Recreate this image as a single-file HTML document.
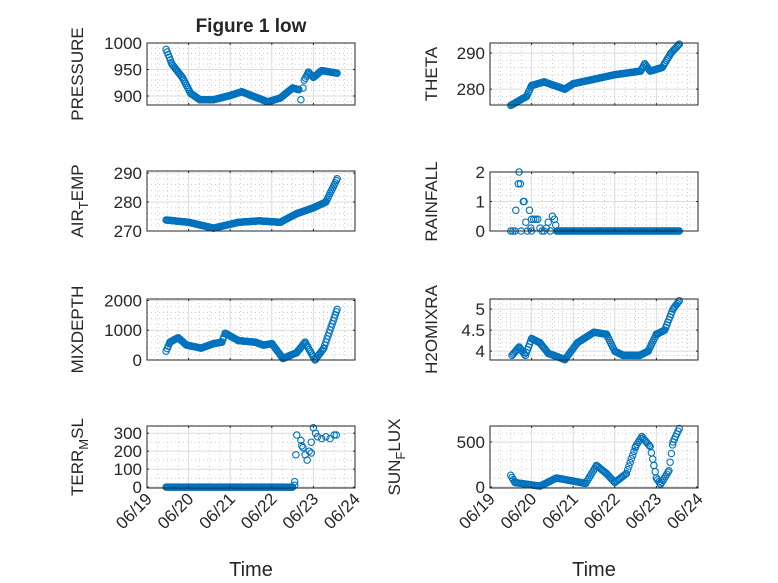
<!DOCTYPE html><html><head><meta charset="utf-8"><style>body{margin:0;background:#fff}svg{display:block}text{font-family:"Liberation Sans",sans-serif;fill:#262626}</style></head><body>
<svg id="s" width="778" height="583" xmlns="http://www.w3.org/2000/svg"></svg>
<script>
const S=document.getElementById('s');let h='';
h+='<rect width="778" height="583" fill="#fff"/>';
h+='<text x="251" y="32" font-size="19" font-weight="bold" text-anchor="middle">Figure 1 low</text>';
function lin(pts,step){const r=[];for(let i=0;i<pts.length-1;i++){const[a,va]=pts[i],[b,vb]=pts[i+1];for(let d=a;d<b;d+=step){r.push([d,va+(vb-va)*(d-a)/(b-a)]);}}r.push(pts[pts.length-1]);return r;}
function ax(o){const{x0,x1,y0,y1,ymin,ymax,ticks,minor,label,data,xl}=o;
const X=d=>x0+d*(x1-x0)/5,Y=v=>y1-(v-ymin)*(y1-y0)/(ymax-ymin);
let g='';
for(let i=0;i<20;i++){if(i%4==0)continue;const x=X(i/4);g+=`<line x1="${x}" y1="${y0}" x2="${x}" y2="${y1}" stroke="#bbb" stroke-width="0.7" stroke-dasharray="1,3"/>`;}
minor.forEach(v=>{const y=Y(v);g+=`<line x1="${x0}" y1="${y}" x2="${x1}" y2="${y}" stroke="#bbb" stroke-width="0.7" stroke-dasharray="1,3"/>`;});
for(let i=1;i<5;i++){const x=X(i);g+=`<line x1="${x}" y1="${y0}" x2="${x}" y2="${y1}" stroke="#dcdcdc" stroke-width="1"/>`;}
ticks.forEach(v=>{const y=Y(v);g+=`<line x1="${x0}" y1="${y}" x2="${x1}" y2="${y}" stroke="#dcdcdc" stroke-width="1"/>`;});
data.forEach(([d,v])=>{g+=`<circle cx="${X(d).toFixed(1)}" cy="${Y(v).toFixed(1)}" r="3.2" fill="none" stroke="#0072BD" stroke-width="1.1"/>`;});
g+=`<rect x="${x0}" y="${y0}" width="${x1-x0}" height="${y1-y0}" fill="none" stroke="#262626" stroke-width="1"/>`;
for(let i=0;i<=5;i++){const x=X(i);g+=`<line x1="${x}" y1="${y1}" x2="${x}" y2="${y1-2}" stroke="#262626"/><line x1="${x}" y1="${y0}" x2="${x}" y2="${y0+2}" stroke="#262626"/>`;}
ticks.forEach(v=>{const y=Y(v);g+=`<line x1="${x0}" y1="${y}" x2="${x0+2}" y2="${y}" stroke="#262626"/><line x1="${x1}" y1="${y}" x2="${x1-2}" y2="${y}" stroke="#262626"/><text x="${x0-5}" y="${y+6}" font-size="17" text-anchor="end">${v}</text>`;});
const lx=o.lx,ly=(y0+y1)/2;
g+=`<text transform="translate(${lx},${ly}) rotate(-90)" font-size="17" text-anchor="middle">${label}</text>`;
if(xl){for(let i=0;i<=5;i++){const x=X(i);g+=`<text transform="translate(${x+6},${y1+12}) rotate(-45)" font-size="17" text-anchor="end">06/${19+i}</text>`;}
g+=`<text x="${(x0+x1)/2}" y="576" font-size="20" text-anchor="middle">Time</text>`;}
h+=g;}
const L=[147,355],R=[490,698];
ax({x0:L[0],x1:L[1],y0:43,y1:105,ymin:883,ymax:1000,ticks:[900,950,1000],minor:[890,910,920,930,940,960,970,980,990],label:'PRESSURE',lx:83,
data:lin([[0.46,988],[0.6,960],[0.85,935],[1.05,905],[1.27,893],[1.6,893],[2.0,901],[2.28,908],[2.6,898],[2.9,889],[3.2,896],[3.5,915],[3.65,912]],0.025).concat([[3.7,893],[3.75,915]]).concat(lin([[3.78,930],[3.88,945],[4.0,935],[4.2,948],[4.57,943]],0.025))});
ax({x0:R[0],x1:R[1],y0:43,y1:105,ymin:275.6,ymax:292.8,ticks:[280,290],minor:[276,278,282,284,286,288,292],label:'THETA',lx:437,
data:lin([[0.5,275.5],[0.88,278],[1.0,281],[1.3,282],[1.8,280],[2.0,281.5],[3.0,284],[3.62,285],[3.72,287],[3.85,285],[4.14,286],[4.35,290],[4.55,292.5]],0.025)});
ax({x0:L[0],x1:L[1],y0:171,y1:231,ymin:270,ymax:290.7,ticks:[270,280,290],minor:[272,274,276,278,282,284,286,288],label:'AIR<tspan dy="5" font-size="13">T</tspan><tspan dy="-5">EMP</tspan>',lx:83,
data:lin([[0.46,273.8],[1.0,273],[1.6,271],[2.2,273],[2.7,273.5],[3.2,273],[3.6,276],[4.0,278],[4.3,280],[4.57,288]],0.025)});
let rain=[[0.5,0],[0.55,0],[0.6,0],[0.62,0.7],[0.68,1.6],[0.7,2],[0.73,1.6],[0.8,1],[0.82,1],[0.75,0],[0.86,0.3],[0.9,0],[0.95,0.7],[1.0,0.4],[1.05,0.4],[1.1,0.4],[1.15,0.4],[1.0,0],[0.98,0.1],[1.2,0.1],[1.25,0],[1.3,0],[1.35,0.1],[1.4,0.3],[1.5,0.5],[1.55,0.4],[1.58,0.2],[1.45,0]];
for(let d=1.6;d<=4.57;d+=0.025)rain.push([d,0]);
ax({x0:R[0],x1:R[1],y0:172,y1:231,ymin:0,ymax:2,ticks:[0,1,2],minor:[0.2,0.4,0.6,0.8,1.2,1.4,1.6,1.8],label:'RAINFALL',lx:437,data:rain});
ax({x0:L[0],x1:L[1],y0:299,y1:360,ymin:0,ymax:2050,ticks:[0,1000,2000],minor:[200,400,600,800,1200,1400,1600,1800],label:'MIXDEPTH',lx:83,
data:lin([[0.46,300],[0.55,600],[0.75,750],[0.95,500],[1.3,400],[1.6,550],[1.8,600],[1.88,900],[2.2,650],[2.6,600],[2.8,500],[3.0,550],[3.27,50],[3.6,250],[3.8,600],[4.04,0],[4.25,400],[4.57,1700]],0.025)});
ax({x0:R[0],x1:R[1],y0:299,y1:360,ymin:3.79,ymax:5.24,ticks:[4,4.5,5],minor:[3.9,4.1,4.2,4.3,4.4,4.6,4.7,4.8,4.9,5.1,5.2],label:'H2OMIXRA',lx:437,
data:lin([[0.53,3.9],[0.7,4.1],[0.85,3.9],[1.0,4.3],[1.2,4.2],[1.4,3.95],[1.8,3.8],[2.1,4.2],[2.5,4.45],[2.8,4.4],[3.0,4.0],[3.2,3.9],[3.6,3.9],[3.8,4.0],[4.0,4.4],[4.2,4.5],[4.4,5.0],[4.55,5.2]],0.025)});
let terr=lin([[0.46,0],[3.5,0]],0.025).concat([[3.55,30],[3.55,10],[3.58,180],[3.6,290],[3.7,260],[3.75,220],[3.8,180],[3.85,150],[3.9,200],[3.95,250],[4.0,330],[4.05,300],[4.1,280],[4.2,270],[4.3,280],[4.4,270],[4.5,290],[4.55,290],[3.95,190],[3.72,230]]);
ax({x0:L[0],x1:L[1],y0:426,y1:488,ymin:-5,ymax:340,ticks:[0,100,200,300],minor:[50,150,250],label:'TERR<tspan dy="5" font-size="13">M</tspan><tspan dy="-5">SL</tspan>',lx:83,data:terr,xl:1});
ax({x0:R[0],x1:R[1],y0:426,y1:488,ymin:-11,ymax:678,ticks:[0,500],minor:[100,200,300,400,600],label:'SUN<tspan dy="5" font-size="13">F</tspan><tspan dy="-5">LUX</tspan>',lx:400,
data:lin([[0.5,130],[0.6,50],[1.2,10],[1.6,100],[2.3,40],[2.56,240],[2.8,150],[3.0,50],[3.28,150],[3.5,450],[3.65,560],[3.85,450],[4.0,100],[4.1,30],[4.3,180],[4.4,500],[4.55,650]],0.03),xl:1});
S.innerHTML=h;
</script></body></html>
